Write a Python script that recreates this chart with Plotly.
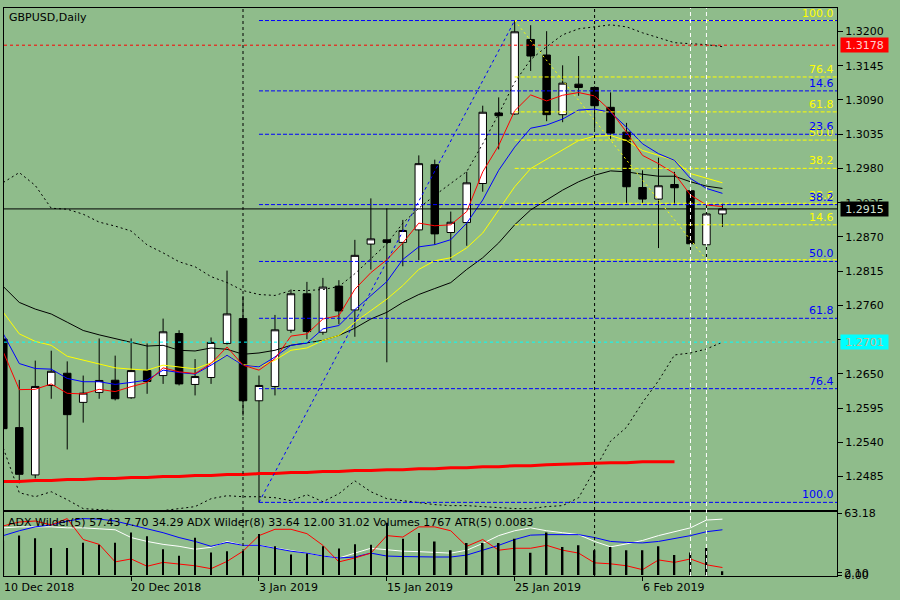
import plotly.graph_objects as go

# ---------------- data ----------------
dates = ["2018-12-10","2018-12-11","2018-12-12","2018-12-13","2018-12-14","2018-12-17","2018-12-18",
         "2018-12-19","2018-12-20","2018-12-21","2018-12-24","2018-12-26","2018-12-27","2018-12-28",
         "2018-12-31","2019-01-02","2019-01-03","2019-01-04","2019-01-07","2019-01-08","2019-01-09",
         "2019-01-10","2019-01-11","2019-01-14","2019-01-15","2019-01-16","2019-01-17","2019-01-18",
         "2019-01-21","2019-01-22","2019-01-23","2019-01-24","2019-01-25","2019-01-28","2019-01-29",
         "2019-01-30","2019-01-31","2019-02-01","2019-02-04","2019-02-05","2019-02-06","2019-02-07",
         "2019-02-08","2019-02-11","2019-02-12","2019-02-13"]

opens  = [1.2706,1.25637,1.24877,1.26314,1.2651,1.26042,1.26202,1.26398,1.26116,1.26553,1.26473,1.27148,
          1.2633,1.26442,1.26989,1.27388,1.26068,1.26298,1.27201,1.27787,1.27169,1.2791,1.27527,1.28585,
          1.28653,1.28612,1.28813,1.29861,1.28771,1.28931,1.29558,1.30691,1.30675,1.31872,1.31622,1.30664,
          1.31154,1.31101,1.30782,1.30383,1.29494,1.29308,1.29542,1.29442,1.28574,1.29069]
highs  = [1.2709,1.26403,1.26713,1.26872,1.26701,1.26473,1.27069,1.26793,1.27069,1.26989,1.27388,1.27201,
          1.26738,1.27085,1.28159,1.2775,1.26473,1.27447,1.27855,1.27978,1.28042,1.28005,1.28653,1.29319,
          1.29159,1.28973,1.3001,1.29941,1.29107,1.29745,1.30808,1.30942,1.32176,1.32101,1.32005,1.31457,
          1.31606,1.3112,1.31022,1.30532,1.2977,1.29973,1.29745,1.2946,1.29234,1.29239]
lows   = [1.2556,1.24743,1.24823,1.2610,1.25286,1.25717,1.2610,1.26074,1.2610,1.2618,1.26339,1.26314,
          1.26154,1.26339,1.2697,1.2583,1.24436,1.26154,1.2716,1.27057,1.27128,1.27297,1.27096,1.28175,
          1.26686,1.28229,1.28325,1.28574,1.28325,1.28558,1.29426,1.30106,1.3066,1.31366,1.30559,1.30543,
          1.30967,1.30436,1.30276,1.29239,1.29239,1.28521,1.29212,1.28441,1.28334,1.2886]
closes = [1.2562,1.24887,1.26298,1.26542,1.25845,1.26191,1.26394,1.2610,1.26553,1.26378,1.27176,1.26339,
          1.26457,1.27005,1.27463,1.26068,1.26314,1.27208,1.27787,1.2718,1.27894,1.27511,1.28404,1.28669,
          1.28612,1.28803,1.29877,1.28749,1.28936,1.29569,1.30703,1.30648,1.31995,1.31606,1.30664,1.3117,
          1.31101,1.30808,1.30367,1.29506,1.29308,1.29522,1.2949,1.2859,1.29069,1.2915]

ma_red = [1.26852,1.26247,1.26252,1.26338,1.26188,1.26178,1.26252,1.26215,1.26295,1.26363,1.26597,1.26533,
          1.26506,1.26666,1.26932,1.2664,1.2656,1.26745,1.27107,1.27143,1.27382,1.27436,1.2786,1.28126,
          1.28333,1.28604,1.28922,1.28879,1.28895,1.29108,1.29745,1.30169,1.30726,1.30981,1.30885,1.30976,
          1.31019,1.30965,1.30726,1.30382,1.3001,1.29877,1.29718,1.29373,1.29213,1.29188]
ma_blue = [1.27143,1.26666,1.26586,1.26576,1.26427,1.26374,1.26374,1.26331,1.26363,1.26401,1.2656,1.26522,
           1.26497,1.2664,1.26799,1.2664,1.26613,1.26772,1.26959,1.26995,1.27223,1.27277,1.27532,1.27755,
           1.27982,1.28338,1.2854,1.28576,1.28656,1.28922,1.29293,1.29771,1.30143,1.30446,1.30498,1.30594,
           1.30737,1.30753,1.30701,1.30462,1.30196,1.30037,1.2993,1.29639,1.29479,1.294]
ma_yellow = [1.27489,1.27143,1.27022,1.26959,1.26783,1.2672,1.26666,1.26597,1.26576,1.2656,1.2664,1.26613,
             1.26581,1.26677,1.26799,1.2665,1.26613,1.2672,1.26879,1.26916,1.27038,1.27118,1.2733,1.27516,
             1.27701,1.27919,1.28178,1.28317,1.28365,1.28524,1.28763,1.29134,1.29506,1.29798,1.29949,1.30089,
             1.30248,1.30318,1.30328,1.30248,1.30089,1.3001,1.2993,1.29718,1.29639,1.2957]
ma_black = [1.27903,1.27648,1.27541,1.27462,1.2733,1.27197,1.27127,1.27064,1.27011,1.26947,1.26959,1.26879,
            1.26868,1.26916,1.26895,1.26815,1.26836,1.26879,1.26959,1.26995,1.27038,1.27118,1.27234,1.27382,
            1.27489,1.27648,1.27775,1.27871,1.27966,1.28178,1.28365,1.28604,1.28895,1.29134,1.29293,1.29452,
            1.29586,1.29691,1.29761,1.29745,1.29707,1.29675,1.29675,1.29586,1.29516,1.29479]
bb_upper = [1.29575,1.29734,1.29527,1.29161,1.29145,1.29065,1.28938,1.28874,1.28795,1.28572,1.28444,1.28301,
            1.28221,1.28062,1.27967,1.27839,1.27775,1.2776,1.27839,1.27839,1.27855,1.27903,1.2811,1.28349,
            1.28588,1.28922,1.29161,1.29368,1.29559,1.2975,1.30196,1.30674,1.31183,1.31549,1.31756,1.31947,
            1.32043,1.32075,1.32107,1.32075,1.31979,1.319,1.3182,1.31804,1.31788,1.31756]
bb_lower = [1.25307,1.24591,1.24527,1.24607,1.24479,1.24336,1.2432,1.24304,1.24304,1.24304,1.24304,1.24336,
            1.24368,1.24495,1.24543,1.24527,1.24527,1.24511,1.24463,1.24559,1.24447,1.24575,1.24782,1.24607,
            1.24495,1.24463,1.24432,1.244,1.24384,1.24384,1.24368,1.24352,1.24336,1.24336,1.24368,1.24384,
            1.24511,1.24957,1.25419,1.25642,1.2604,1.2639,1.26804,1.26836,1.269,1.27011]
ma_long = [1.24771,1.24771,1.24787,1.24787,1.24803,1.24803,1.24819,1.24819,1.24835,1.24835,1.24851,1.24851,
           1.24866,1.24866,1.24882,1.24882,1.24898,1.24898,1.24914,1.24914,1.2493,1.2493,1.24946,1.24946,
           1.24962,1.24962,1.24978,1.24978,1.24994,1.24994,1.2501,1.2501,1.25025,1.25025,1.25041,1.25048,
           1.25064,1.25064,1.25073,1.25073,1.25089,1.25089,1.25089,None,None,None]

adx_white = [48.5,49.5,49.5,49.5,48.5,48.5,47.5,46.5,38.5,34.5,31.5,29.5,26.5,28.5,34.5,30.5,30.5,28.0,25.5,
             22.5,19.5,17.5,22.5,27.5,26.0,24.5,24.0,23.5,22.5,25.5,32.5,40.5,45.5,48.5,45.5,43.5,41.5,
             34.5,29.0,32.0,35.5,40.5,44.5,48.5,56.5,57.43]
adx_blue = [40.5,45.5,49.5,51.5,55.5,58.0,57.5,55.5,51.5,47.5,43.5,38.5,34.5,29.5,33.5,30.5,30.5,27.5,24.5,
            22.5,19.5,17.5,18.5,22.5,19.5,19.0,18.5,18.5,18.5,20.5,25.5,30.5,36.5,41.0,41.5,41.5,41.5,
            38.5,34.5,33.5,33.0,34.5,37.5,40.5,44.5,46.5]
adx_red = [50.5,54.5,55.5,51.5,58.0,36.5,31.5,13.5,16.5,9.0,13.0,11.5,9.5,6.5,14.0,24.5,40.5,47.0,47.0,42.5,
           30.5,13.5,17.5,22.5,40.5,39.0,49.5,49.5,45.5,29.5,36.5,25.5,27.5,27.5,30.5,25.5,22.5,12.5,11.5,
           9.5,5.5,15.5,13.0,16.5,10.5,7.70]
volumes = [16508,18833,17577,12927,12927,15438,14508,15438,20367,18507,12323,9207,17763,10788,11393,11532,
           19623,13718,9858,10323,13718,12648,14648,14508,25017,17298,20088,16043,11858,15252,15252,15252,
           17298,10602,20367,13392,14183,11858,13392,11858,11858,13718,9533,10788,12927,1767]

price_ticks = [1.3200,1.3145,1.3090,1.3035,1.2980,1.2925,1.2870,1.2815,1.2760,1.2705,1.2650,1.2595,1.2540,1.2485]
ind_ticks = [0.0, 2.10, 63.18]
ind_tick_labels = ["0.00", "2.10", "63.18"]
tick_dates = ["2018-12-10","2018-12-20","2019-01-03","2019-01-15","2019-01-25","2019-02-06"]
tick_labels = ["10 Dec 2018","20 Dec 2018","3 Jan 2019","15 Jan 2019","25 Jan 2019","6 Feb 2019"]

fib_ratios = [0.0, 14.6, 23.6, 38.2, 50.0, 61.8, 76.4, 100.0]
blue_fib_low_date, blue_fib_high_date = "2019-01-03", "2019-01-25"
yellow_fib_low_date, yellow_fib_high_date = "2019-02-12", "2019-01-25"
ask_level, bid_level, cyan_level = 1.3178, 1.2915, 1.2701
separator_dates = ["2019-01-02", "2019-02-01"]
white_line_dates = ["2019-02-11", "2019-02-12"]
indicator_text = "ADX Wilder(5) 57.43 7.70 34.29 ADX Wilder(8) 33.64 12.00 31.02 Volumes 1767 ATR(5) 0.0083"
title_text = "GBPUSD,Daily"

# ---------------- figure ----------------
x = list(range(len(dates)))
X0, X1 = 0.044, 52.169
Y0, Y1 = 1.243153, 1.323774
BG = "#8fbc8b"
FONT = "DejaVu Sans"

fig = go.Figure()
fig.add_trace(go.Candlestick(
    x=x, open=opens, high=highs, low=lows, close=closes, xaxis="x", yaxis="y",
    increasing=dict(fillcolor="white", line=dict(color="black", width=1)),
    decreasing=dict(fillcolor="black", line=dict(color="black", width=1)),
    whiskerwidth=0, hoverinfo="skip"))

def line(y, color, width=1, dash="solid"):
    fig.add_trace(go.Scatter(x=x, y=y, mode="lines", xaxis="x", yaxis="y",
                             line=dict(color=color, width=width, dash=dash), hoverinfo="skip"))

line(bb_upper, "black", 1, "2px,3px")
line(bb_lower, "black", 1, "2px,3px")
line(ma_long, "#ff0000", 3)
line(ma_black, "black")
line(ma_yellow, "#ffff00")
line(ma_blue, "#0000ff")
line(ma_red, "#ff0000")

# indicator panel
fig.add_trace(go.Bar(x=x, y=volumes, xaxis="x2", yaxis="y3", width=0.1,
                     marker=dict(color="black", line=dict(width=0)), hoverinfo="skip"))
for vals, col in [(adx_white, "white"), (adx_blue, "#0000ff"), (adx_red, "#ff0000")]:
    fig.add_trace(go.Scatter(x=x, y=vals, mode="lines", xaxis="x2", yaxis="y2",
                             line=dict(color=col, width=1), hoverinfo="skip"))

shapes = []
annotations = []

# horizontal price lines
shapes.append(dict(type="line", xref="x", yref="y", x0=X0, x1=X1, y0=ask_level, y1=ask_level,
                   line=dict(color="#ff0000", width=1, dash="3px,3px")))
shapes.append(dict(type="line", xref="x", yref="y", x0=X0, x1=X1, y0=cyan_level, y1=cyan_level,
                   line=dict(color="#00ffff", width=1, dash="3px,3px")))
shapes.append(dict(type="line", xref="x", yref="y", x0=X0, x1=X1, y0=bid_level, y1=bid_level,
                   line=dict(color="black", width=1)))

# fibonacci retracements
bi_lo = dates.index(blue_fib_low_date); bi_hi = dates.index(blue_fib_high_date)
b_lo, b_hi = lows[bi_lo], highs[bi_hi]
yi_lo = dates.index(yellow_fib_low_date); yi_hi = dates.index(yellow_fib_high_date)
y_lo, y_hi = lows[yi_lo], highs[yi_hi]

shapes.append(dict(type="line", xref="x", yref="y", x0=bi_lo, x1=bi_hi, y0=b_lo, y1=b_hi,
                   line=dict(color="#0000ff", width=1, dash="3px,3px")))
shapes.append(dict(type="line", xref="x", yref="y", x0=yi_hi, x1=yi_lo, y0=y_hi, y1=y_lo,
                   line=dict(color="#ffff00", width=1, dash="2px,3px")))

for r in fib_ratios:
    lvl = y_lo + r / 100.0 * (y_hi - y_lo)
    shapes.append(dict(type="line", xref="x", yref="y", x0=yi_hi, x1=X1, y0=lvl, y1=lvl,
                       line=dict(color="#ffff00", width=1, dash="4px,2px")))
    if r > 0:
        annotations.append(dict(xref="paper", yref="y", x=1, y=lvl, xanchor="right", yanchor="bottom",
                                xshift=-2, text=f"{r:.1f}", showarrow=False, borderpad=0,
                                font=dict(family=FONT, size=11, color="#ffff00")))
for r in fib_ratios:
    lvl = b_hi - r / 100.0 * (b_hi - b_lo)
    shapes.append(dict(type="line", xref="x", yref="y", x0=bi_lo, x1=X1, y0=lvl, y1=lvl,
                       line=dict(color="#0000ff", width=1, dash="4px,2px")))
    if r > 0:
        annotations.append(dict(xref="paper", yref="y", x=1, y=lvl, xanchor="right", yanchor="bottom",
                                xshift=-2, text=f"{r:.1f}", showarrow=False, borderpad=0,
                                font=dict(family=FONT, size=11, color="#0000ff")))

# vertical lines across both panels
for d in separator_dates:
    i = dates.index(d)
    shapes.append(dict(type="line", xref="x", yref="paper", x0=i, x1=i, y0=0, y1=1,
                       line=dict(color="black", width=1, dash="3px,3px")))
for d in white_line_dates:
    i = dates.index(d)
    shapes.append(dict(type="line", xref="x", yref="paper", x0=i, x1=i, y0=0, y1=1,
                       line=dict(color="white", width=1, dash="4px,3px")))

# price labels on the right axis
for lvl, bg, fc in [(ask_level, "#ff0000", "#ffd0d0"), (bid_level, "black", "#d0e0d0"),
                    (cyan_level, "#00ffff", "#c8b48c")]:
    annotations.append(dict(xref="paper", yref="y", x=1, y=lvl, xanchor="left", yanchor="middle",
                            xshift=3, text=f"{lvl:.4f}", showarrow=False, bgcolor=bg, borderpad=0,
                            width=47, height=14, align="center",
                            font=dict(family=FONT, size=11, color=fc)))

# date labels (left aligned at the tick, MT4 style)
tick_idx = [dates.index(d) for d in tick_dates]
for i, lab in zip(tick_idx, tick_labels):
    annotations.append(dict(xref="x2", yref="paper", x=max(i, X0), y=0, xanchor="left", yanchor="top",
                            yshift=-4, xshift=-1, text=lab, showarrow=False, borderpad=0,
                            font=dict(family=FONT, size=11, color="black")))

annotations.append(dict(xref="paper", yref="paper", x=0, y=1, xanchor="left", yanchor="top",
                        xshift=4, yshift=-2, text=title_text, showarrow=False, borderpad=0,
                        font=dict(family=FONT, size=11, color="black")))
annotations.append(dict(xref="paper", yref="paper", x=0, y=0.1122, xanchor="left", yanchor="top",
                        xshift=3, yshift=-3, text=indicator_text, showarrow=False, borderpad=0,
                        font=dict(family=FONT, size=11, color="black")))

axis_common = dict(showgrid=False, zeroline=False, showline=True, mirror=True,
                   linecolor="black", linewidth=1, tickcolor="black",
                   tickfont=dict(family=FONT, size=11, color="black"))

fig.update_layout(
    width=900, height=600,
    margin=dict(l=3, r=63, t=3, b=24),
    paper_bgcolor=BG, plot_bgcolor=BG,
    showlegend=False, boxgap=0.33,
    font=dict(family=FONT, size=11, color="black"),
    xaxis=dict(domain=[0, 1], anchor="y", range=[X0, X1], showticklabels=False, ticks="",
               rangeslider=dict(visible=False), **axis_common),
    yaxis=dict(domain=[0.1164, 1], anchor="x", range=[Y0, Y1], side="right",
               tickvals=price_ticks, ticktext=[f"{v:.4f}" for v in price_ticks],
               ticks="outside", ticklen=5, **axis_common),
    xaxis2=dict(domain=[0, 1], anchor="y2", range=[X0, X1], tickvals=tick_idx, ticks="outside",
                ticklen=4, showticklabels=False, **axis_common),
    yaxis2=dict(domain=[0, 0.1122], anchor="x2", range=[-1.02, 64.5], side="right",
                tickvals=ind_ticks, ticktext=ind_tick_labels, ticks="outside", ticklen=4, **axis_common),
    yaxis3=dict(overlaying="y2", range=[-474, 29993], visible=False, showgrid=False, zeroline=False),
    shapes=shapes, annotations=annotations,
)

fig.write_html("out.html", config={"displayModeBar": False},
               post_script="document.body.style.margin='0px';document.body.style.background='%s';" % BG)
